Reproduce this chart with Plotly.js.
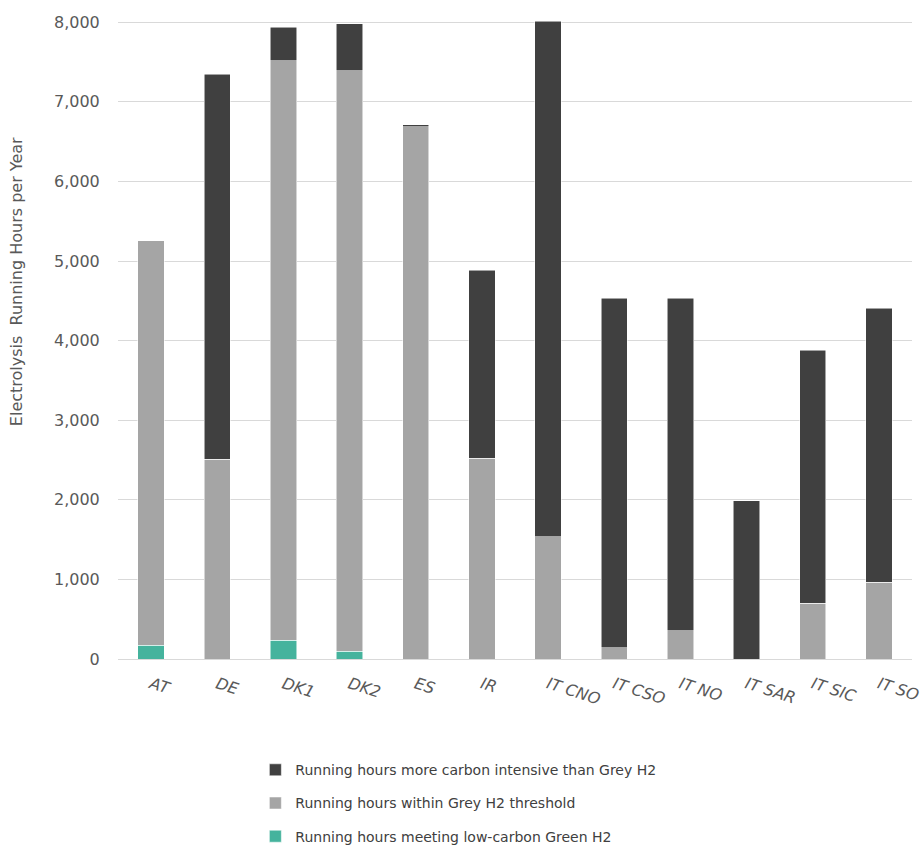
<!DOCTYPE html>
<html>
<head>
<meta charset="utf-8">
<script src="https://cdn.plot.ly/plotly-3.0.1.min.js"></script>
<style>html,body{margin:0;padding:0;background:#fff;}#chart{width:920px;height:847px;}</style>
</head>
<body>
<div id="chart"></div>
<script>
var categories = ["AT", "DE", "DK1", "DK2", "ES", "IR", "IT CNO", "IT CSO", "IT NO", "IT SAR", "IT SIC", "IT SO"];
var greenHours = [172, 0, 235, 97, 0, 0, 0, 0, 0, 0, 0, 0];
var greyHours = [5084, 2509, 7278, 7295, 6688, 2525, 1533, 143, 357, 0, 700, 964];
var carbonHours = [0, 4836, 427, 591, 25, 2362, 6482, 4388, 4174, 1990, 3178, 3442];
var seriesNames = [
  "Running hours meeting low-carbon Green H2",
  "Running hours within Grey H2 threshold",
  "Running hours more carbon intensive than Grey H2"
];
var yTickVals = [0, 1000, 2000, 3000, 4000, 5000, 6000, 7000, 8000];
var yTickText = ["0", "1,000", "2,000", "3,000", "4,000", "5,000", "6,000", "7,000", "8,000"];
var yTitle = "Electrolysis  Running Hours per Year";

var FONT = "'Century Gothic', 'DejaVu Sans', sans-serif";
var colors = ["#45B39D", "#A5A5A5", "#404040"];
var vals = [greenHours, greyHours, carbonHours];
var ranks = [3, 2, 1];

var traces = vals.map(function (v, i) {
  return {
    type: "bar",
    x: categories,
    y: v,
    name: seriesNames[i],
    legendgroup: "g" + i,
    legendrank: ranks[i],
    marker: { color: colors[i], line: { color: "rgba(255,255,255,0.7)", width: 0.75 } },
    hoverinfo: "x+y+name"
  };
});

var layout = {
  width: 920,
  height: 847,
  margin: { l: 118, r: 8, t: 20, b: 188, autoexpand: false },
  barmode: "stack",
  bargap: 0.6,
  paper_bgcolor: "#ffffff",
  plot_bgcolor: "#ffffff",
  font: { family: FONT, color: "#595959", size: 14 },
  showlegend: true,
  legend: {
    orientation: "v",
    traceorder: "grouped",
    tracegroupgap: 12,
    x: 0.173,
    xanchor: "left",
    y: -0.149,
    yanchor: "top",
    font: { family: FONT, size: 14, color: "#404040" },
    itemwidth: 30
  },
  xaxis: {
    type: "category",
    tickangle: 18,
    tickfont: { family: FONT, size: 16, color: "#595959", style: "italic" },
    showgrid: false,
    showline: true,
    linecolor: "#d9d9d9",
    linewidth: 1,
    ticks: "outside",
    ticklen: 9,
    tickcolor: "rgba(0,0,0,0)",
    automargin: false
  },
  yaxis: {
    range: [0, 8028],
    tickvals: yTickVals,
    ticktext: yTickText,
    tickfont: { family: FONT, size: 16, color: "#595959" },
    showgrid: true,
    gridcolor: "#d9d9d9",
    gridwidth: 1,
    zeroline: false,
    ticks: "outside",
    ticklen: 14,
    tickcolor: "rgba(0,0,0,0)",
    automargin: false
  },
  annotations: [{
    text: yTitle,
    xref: "paper", yref: "paper",
    x: -0.127, y: 0.59,
    xanchor: "center", yanchor: "middle",
    textangle: -90,
    showarrow: false,
    font: { family: FONT, size: 16, color: "#595959" }
  }]
};

Plotly.newPlot("chart", traces, layout, { displayModeBar: false, staticPlot: true });
</script>
</body>
</html>
